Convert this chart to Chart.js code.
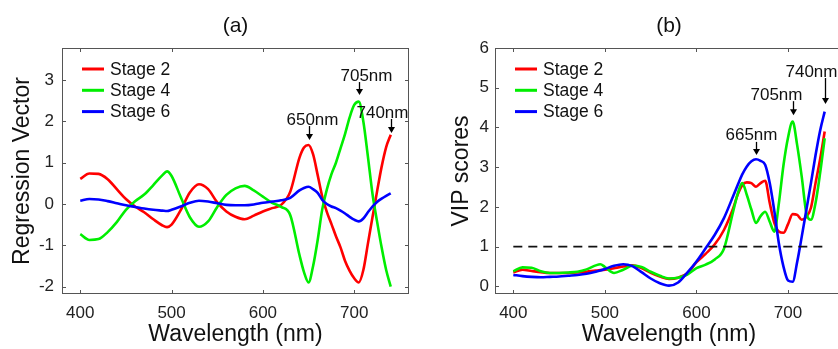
<!DOCTYPE html>
<html>
<head>
<meta charset="utf-8">
<script src="https://cdn.jsdelivr.net/npm/chart.js@4.4.0/dist/chart.umd.min.js"></script>
<style>
  html, body { margin: 0; padding: 0; background: #fff; overflow: hidden; width: 838px; height: 349px; }
  canvas { display: block; }
  #wrapA { position: absolute; left: 0; top: 0; }
  #wrapB { position: absolute; left: 420px; top: 0; }
</style>
</head>
<body>
<div id="wrapA"><canvas id="chartA" width="420" height="349"></canvas></div>
<div id="wrapB"><canvas id="chartB" width="440" height="349"></canvas></div>
<script>
// wavelength grid shared by both panels (nm)
const wavelengths = [400, 410, 420, 430, 440, 450, 460, 470, 480, 490, 495, 500, 510, 520, 530, 540, 550, 560, 570, 580, 590,
  600, 610, 620, 630, 640, 645, 650, 655, 660, 665, 670, 675, 680, 685, 690, 695, 700, 705, 710, 715, 720, 725, 730, 735, 740];

// (a) regression vectors
const regStage2 = [0.61, 0.74, 0.73, 0.6, 0.36, 0.12, -0.06, -0.2, -0.37, -0.52, -0.56, -0.5, -0.15, 0.28, 0.48, 0.36, 0.04, -0.18, -0.31, -0.37, -0.28,
  -0.18, -0.1, -0.02, 0.3, 1.12, 1.37, 1.43, 1.2, 0.7, 0.18, -0.19, -0.48, -0.78, -1.05, -1.38, -1.62, -1.8, -1.9, -1.6, -0.96, -0.32, 0.3, 0.9, 1.38, 1.68];
const regStage4 = [-0.73, -0.87, -0.85, -0.68, -0.44, -0.14, 0.07, 0.23, 0.46, 0.7, 0.79, 0.68, 0.17, -0.32, -0.55, -0.42, -0.07, 0.22, 0.38, 0.44, 0.33,
  0.18, 0.03, -0.07, -0.27, -1.23, -1.65, -1.9, -1.5, -0.87, -0.13, 0.35, 0.72, 1.0, 1.35, 1.7, 2.1, 2.4, 2.48, 2.0, 1.15, 0.25, -0.42, -1.05, -1.6, -2.0];
const regStage6 = [0.08, 0.12, 0.11, 0.07, 0.02, -0.03, -0.07, -0.11, -0.14, -0.16, -0.17, -0.14, -0.06, 0.03, 0.08, 0.06, 0.02, -0.02, -0.03, -0.03, -0.01,
  0.03, 0.06, 0.09, 0.15, 0.33, 0.39, 0.42, 0.36, 0.27, 0.1, 0.0, -0.06, -0.1, -0.16, -0.23, -0.31, -0.38, -0.42, -0.35, -0.2, -0.06, 0.05, 0.13, 0.2, 0.26];

// (b) VIP scores
const vipStage2 = [0.35, 0.42, 0.39, 0.36, 0.34, 0.34, 0.34, 0.35, 0.37, 0.4, 0.41, 0.42, 0.46, 0.5, 0.53, 0.46, 0.34, 0.25, 0.19, 0.22, 0.33,
  0.61, 0.82, 1.06, 1.42, 1.96, 2.31, 2.55, 2.62, 2.6, 2.51, 2.6, 2.66, 2.1, 1.6, 1.38, 1.35, 1.57, 1.82, 1.8, 1.68, 1.75, 1.98, 2.6, 3.2, 3.9];
const vipStage4 = [0.38, 0.48, 0.47, 0.38, 0.34, 0.34, 0.35, 0.37, 0.43, 0.53, 0.56, 0.49, 0.34, 0.42, 0.52, 0.49, 0.37, 0.27, 0.2, 0.22, 0.3,
  0.46, 0.55, 0.68, 0.95, 1.88, 2.33, 2.6, 2.3, 1.93, 1.6, 1.77, 1.88, 1.63, 1.38, 2.1, 3.05, 3.75, 4.15, 3.55, 2.75, 1.85, 1.68, 2.1, 2.85, 3.73];
const vipStage6 = [0.29, 0.26, 0.24, 0.23, 0.24, 0.25, 0.27, 0.29, 0.32, 0.37, 0.4, 0.44, 0.52, 0.56, 0.51, 0.36, 0.2, 0.08, 0.02, 0.1, 0.35,
  0.63, 0.96, 1.3, 1.72, 2.27, 2.55, 2.82, 3.02, 3.15, 3.2, 3.16, 3.06, 2.6, 1.9, 1.08, 0.5, 0.15, 0.12, 0.62, 1.26, 1.93, 2.6, 3.3, 3.92, 4.4];

// VIP = 1 threshold
const thresholdX = [400, 740];
const thresholdY = [1, 1];

const stageLabels = ['Stage 2', 'Stage 4', 'Stage 6'];
const stageColors = ['#ff0000', '#00ee00', '#0000ff'];

const xTicks = [400, 500, 600, 700];
const yTicksA = [-2, -1, 0, 1, 2, 3];
const yTicksB = [0, 1, 2, 3, 4, 5, 6];

// peak annotations: wavelength, value at arrow tip, arrow length, text shift
const notesA = [
  { text: '650nm', x: 650, y: 1.55, len: 14, dx: 3 },
  { text: '705nm', x: 705, y: 2.64, len: 13, dx: 7 },
  { text: '740nm', x: 740, y: 1.72, len: 14, dx: -9 }
];
const notesB = [
  { text: '665nm', x: 665, y: 3.31, len: 13, dx: -5 },
  { text: '705nm', x: 705, y: 4.31, len: 14, dx: -17 },
  { text: '740nm', x: 740, y: 4.59, len: 26, dx: -14 }
];

const FONT = "'Liberation Sans', Arial, Helvetica, sans-serif";
Chart.defaults.font.family = FONT;

const toPoints = (xs, ys) => xs.map((x, i) => ({ x: x, y: ys[i] }));

const framePlugin = {
  id: 'frame',
  beforeDatasetsDraw(chart) {
    const { ctx, chartArea: a, scales } = chart;
    ctx.save();
    ctx.strokeStyle = '#555';
    ctx.lineWidth = 1;
    ctx.strokeRect(Math.round(a.left) + 0.5, Math.round(a.top) + 0.5,
      Math.round(a.right - a.left) - 1, Math.round(a.bottom - a.top) - 1);
    const tl = 4;
    ctx.beginPath();
    scales.x.ticks.forEach(t => {
      const px = Math.round(scales.x.getPixelForValue(t.value)) + 0.5;
      ctx.moveTo(px, a.bottom); ctx.lineTo(px, a.bottom - tl);
      ctx.moveTo(px, a.top); ctx.lineTo(px, a.top + tl);
    });
    scales.y.ticks.forEach(t => {
      const py = Math.round(scales.y.getPixelForValue(t.value)) + 0.5;
      ctx.moveTo(a.left, py); ctx.lineTo(a.left + tl, py);
      ctx.moveTo(a.right, py); ctx.lineTo(a.right - tl, py);
    });
    ctx.stroke();
    ctx.restore();
  },
  afterDraw(chart, args, opts) {
    const { ctx, chartArea: a, scales } = chart;
    ctx.save();
    // legend inside the axes, top-left
    chart.data.datasets.filter(d => d.label).forEach((d, i) => {
      const y = a.top + 21 + i * 21.3;
      ctx.strokeStyle = d.borderColor;
      ctx.lineWidth = 3;
      ctx.beginPath();
      ctx.moveTo(a.left + 20, y);
      ctx.lineTo(a.left + 42, y);
      ctx.stroke();
      ctx.fillStyle = '#111';
      ctx.font = '17.5px ' + FONT;
      ctx.textAlign = 'left';
      ctx.textBaseline = 'middle';
      ctx.fillText(d.label, a.left + 48, y + 1);
    });
    // peak arrows
    (opts.notes || []).forEach(n => {
      const px = Math.round(scales.x.getPixelForValue(n.x)) + 0.5;
      const tip = scales.y.getPixelForValue(n.y);
      const top = tip - n.len;
      ctx.strokeStyle = '#000';
      ctx.fillStyle = '#000';
      ctx.lineWidth = 1.3;
      ctx.beginPath();
      ctx.moveTo(px, top);
      ctx.lineTo(px, tip - 5);
      ctx.stroke();
      ctx.beginPath();
      ctx.moveTo(px - 3.5, tip - 6);
      ctx.lineTo(px + 3.5, tip - 6);
      ctx.lineTo(px, tip);
      ctx.closePath();
      ctx.fill();
      ctx.fillStyle = '#111';
      ctx.font = '17px ' + FONT;
      ctx.textAlign = 'center';
      ctx.textBaseline = 'alphabetic';
      ctx.fillText(n.text, px + n.dx, top - 1.5);
    });
    ctx.restore();
  }
};

function makeChart(id, cfg) {
  const datasets = cfg.series.map((vals, i) => ({
    label: stageLabels[i],
    data: toPoints(wavelengths, vals),
    borderColor: stageColors[i],
    backgroundColor: stageColors[i],
    borderWidth: 2.6,
    pointRadius: 0,
    cubicInterpolationMode: 'monotone',
    order: 3 - i
  }));
  if (cfg.threshold) {
    datasets.push({
      data: toPoints(thresholdX, thresholdY),
      borderColor: '#111',
      borderWidth: 1.8,
      borderDash: [9, 6],
      pointRadius: 0,
      order: 0
    });
  }
  return new Chart(document.getElementById(id), {
    type: 'line',
    data: { datasets: datasets },
    plugins: [framePlugin],
    options: {
      responsive: false,
      animation: false,
      layout: { padding: { left: 0, right: cfg.padRight, top: 0, bottom: 0 } },
      plugins: {
        legend: { display: false },
        tooltip: { enabled: false },
        title: {
          display: true, text: cfg.title, fullSize: false, color: '#111',
          font: { size: 21, weight: 'normal' }, padding: { top: 14, bottom: 8.8 }
        },
        frame: { notes: cfg.notes }
      },
      scales: {
        x: {
          type: 'linear', min: 380, max: 760,
          afterBuildTicks: s => { s.ticks = xTicks.map(v => ({ value: v })); },
          afterFit: s => { s.height = 55; },
          grid: { display: false, drawTicks: false },
          border: { display: false },
          ticks: { padding: 9, color: '#222', font: { size: 17 }, maxRotation: 0, callback: v => String(v) },
          title: { display: true, text: 'Wavelength (nm)', color: '#111', font: { size: 23 }, padding: { top: 0, bottom: 1 } }
        },
        y: {
          type: 'linear', min: cfg.yMin, max: cfg.yMax,
          afterBuildTicks: s => { s.ticks = cfg.yTicks.map(v => ({ value: v })); },
          afterFit: s => { s.width = cfg.yWidth; },
          grid: { display: false, drawTicks: false },
          border: { display: false },
          ticks: { padding: cfg.yPad, color: '#222', font: { size: 17 }, callback: v => String(v) },
          title: { display: true, text: cfg.yTitle, color: '#111', font: { size: 23 }, padding: { top: cfg.yTitlePad, bottom: 0 } }
        }
      }
    }
  });
}

makeChart('chartA', {
  title: '(a)', series: [regStage2, regStage4, regStage6], notes: notesA,
  yMin: -2.18, yMax: 3.78, yTicks: yTicksA, yTitle: 'Regression Vector',
  yWidth: 62, yPad: 8, yTitlePad: 9, padRight: 11, threshold: false
});

makeChart('chartB', {
  title: '(b)', series: [vipStage2, vipStage4, vipStage6], notes: notesB,
  yMin: -0.19, yMax: 6, yTicks: yTicksB, yTitle: 'VIP scores',
  yWidth: 75, yPad: 6, yTitlePad: 28, padRight: 17, threshold: true
});
</script>
</body>
</html>
